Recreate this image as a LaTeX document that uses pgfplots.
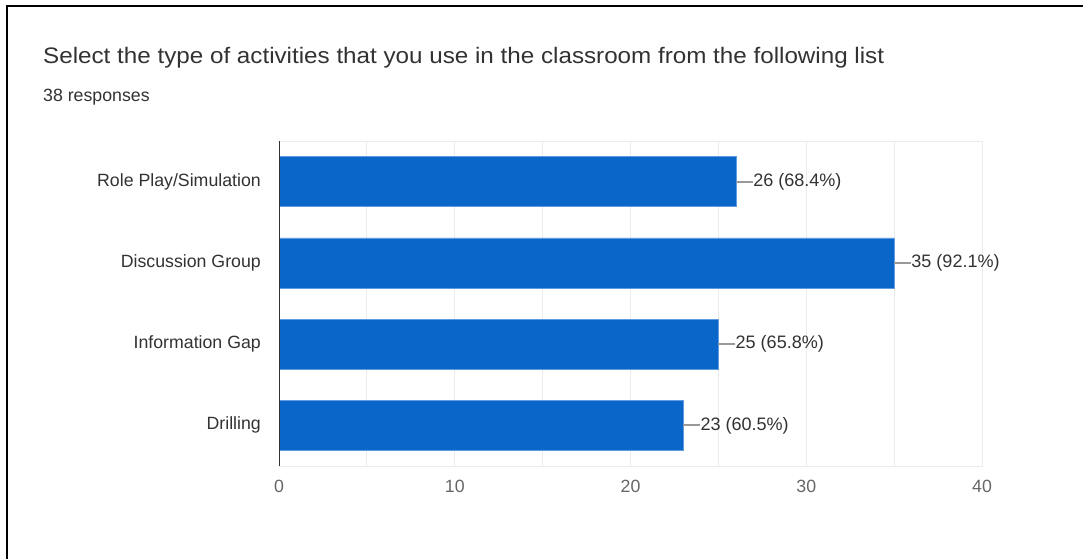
\documentclass[border=0pt]{standalone}
\usepackage{pgfplots}
\pgfplotsset{compat=1.18}
\usepackage{fontspec}
\setmainfont{Liberation Sans}
\newfontfamily\titlefont[FakeStretch=1.08]{Liberation Sans}

\definecolor{barblue}{RGB}{10,102,200}
\definecolor{baredge}{RGB}{95,155,225}
\definecolor{gridgray}{RGB}{235,235,235}
\definecolor{txt}{RGB}{50,50,50}

\begin{document}
\begin{tikzpicture}
\useasboundingbox (0,0) rectangle (1083bp,559bp);
% frame (only top and left edges are visible in the crop)
\draw[black, line width=2.2bp] (7bp,0) -- (7bp,553bp) -- (1083bp,553bp);

\node[anchor=base west, inner sep=0pt, text=txt, font=\titlefont\fontsize{22.5}{25}\selectfont]
  at (43bp,495.5bp) {Select the type of activities that you use in the classroom from the following list};
\node[anchor=base west, inner sep=0pt, text=txt, font=\fontsize{17.8}{20}\selectfont]
  at (43bp,457bp) {38 responses};

\begin{axis}[
    at={(279bp,93bp)}, anchor=south west,
    width=703bp, height=325bp, scale only axis,
    xmin=0, xmax=40, ymin=0.5, ymax=4.5,
    y dir=reverse,
    xbar, bar width=50bp,
    xtick={0,10,20,30,40},
    minor xtick={5,15,25,35},
    ytick={1,2,3,4},
    yticklabels={Role Play/Simulation, Discussion Group, Information Gap, Drilling},
    major tick length=0pt, minor tick length=0pt,
    xmajorgrids, xminorgrids,
    grid style={gridgray, line width=0.8bp},
    minor grid style={gridgray, line width=0.8bp},
    axis line style={gridgray, line width=0.8bp},
    /pgf/number format/assume math mode=true,
    ticklabel style={font=\fontsize{17.8}{20}\selectfont, text=txt},
    yticklabel style={anchor=east, inner sep=0pt, xshift=-18bp},
    xticklabel style={anchor=north, inner sep=0pt, yshift=-14bp, text=black!60},
    clip=false,
    point meta=explicit symbolic,
    nodes near coords,
    nodes near coords style={anchor=west, inner sep=0pt, xshift=17bp,
        font=\fontsize{18.1}{20}\selectfont, text=txt},
]
\addplot[fill=barblue, draw=baredge, line width=0.6bp,
    error bars/.cd, x dir=plus, x fixed=0.967, error mark=none,
    error bar style={draw=black!40, line width=2bp}]
coordinates {
    (26,1) [26 (68.4\%)]
    (35,2) [35 (92.1\%)]
    (25,3) [25 (65.8\%)]
    (23,4) [23 (60.5\%)]
};
\draw[black!80, line width=1bp] (axis cs:0,0.5) -- (axis cs:0,4.5);
\end{axis}
\end{tikzpicture}
\end{document}
